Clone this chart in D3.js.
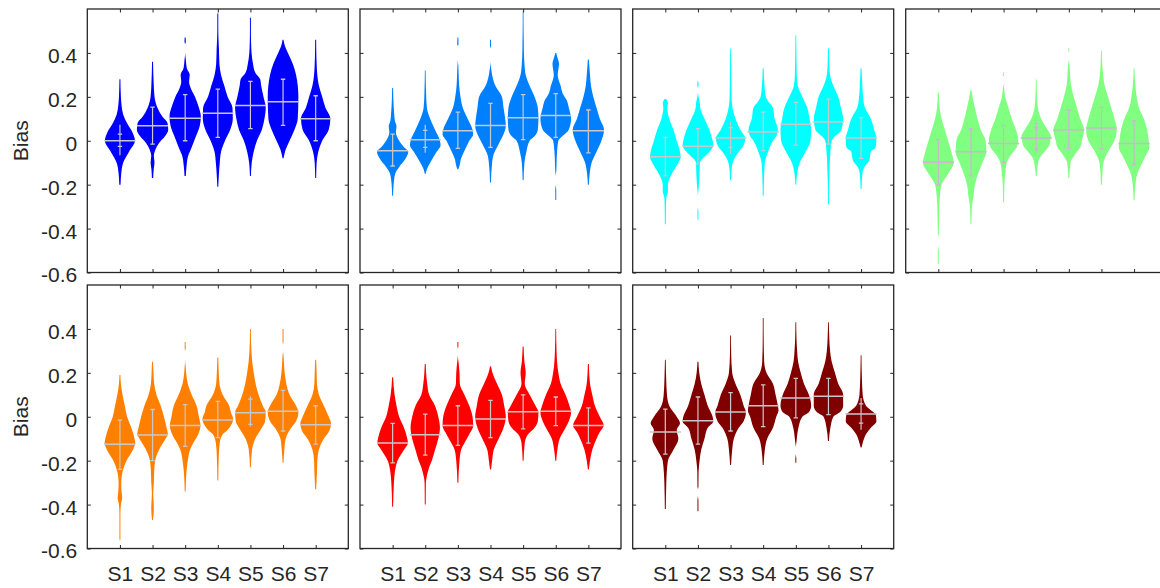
<!DOCTYPE html>
<html>
<head>
<meta charset="utf-8">
<script src="https://cdn.jsdelivr.net/npm/d3@7"></script>
<style>
body { margin: 0; background: #fff; }
text { font-family: "Liberation Sans", Arial, sans-serif; fill: #262626; }
</style>
</head>
<body>
<script>
// categories and tick labels
var groups = ['S1', 'S2', 'S3', 'S4', 'S5', 'S6', 'S7']
var yTicks = [-0.6, -0.4, -0.2, 0, 0.2, 0.4]
var panelColors = ['#0000ff', '#0080ff', '#00ffff', '#80ff80', '#ff8000', '#ff0000', '#800000']

// centre line (median) of each violin, per panel
var medians = [
    [0, 0.068, 0.103, 0.125, 0.16, 0.178, 0.1],
    [-0.045, 0.005, 0.045, 0.07, 0.105, 0.115, 0.045],
    [-0.073, -0.025, 0.012, 0.04, 0.075, 0.085, 0.012],
    [-0.098, -0.05, -0.012, 0.012, 0.05, 0.058, -0.012],
    [-0.125, -0.083, -0.04, -0.015, 0.018, 0.025, -0.037],
    [-0.12, -0.082, -0.04, -0.01, 0.023, 0.025, -0.04],
    [-0.07, -0.018, 0.022, 0.05, 0.085, 0.093, 0.013]
]
// whisker line ends
var errLow = [
    [-0.066, -0.015, 0, 0.015, 0.055, 0.07, 0],
    [-0.115, -0.055, -0.035, -0.03, 0.005, 0.015, -0.055],
    [-0.16, -0.105, -0.06, -0.045, -0.02, -0.015, -0.08],
    [-0.2, -0.16, -0.1, -0.056, -0.035, -0.036, -0.107],
    [-0.24, -0.2, -0.135, -0.095, -0.044, -0.065, -0.125],
    [-0.21, -0.175, -0.13, -0.095, -0.055, -0.04, -0.12],
    [-0.17, -0.125, -0.065, -0.045, -0.005, 0.01, -0.059]
]
var errHigh = [
    [0.073, 0.153, 0.21, 0.235, 0.27, 0.28, 0.205],
    [0.03, 0.073, 0.13, 0.17, 0.21, 0.215, 0.14],
    [0.015, 0.055, 0.085, 0.13, 0.175, 0.19, 0.105],
    [0.005, 0.055, 0.07, 0.088, 0.14, 0.152, 0.09],
    [-0.015, 0.033, 0.055, 0.07, 0.092, 0.12, 0.05],
    [-0.03, 0.012, 0.05, 0.075, 0.1, 0.09, 0.04],
    [0.035, 0.09, 0.11, 0.145, 0.175, 0.175, 0.085]
]
// error bar caps
var capLow = [
    [-0.026, -0.015, 0, 0.015, 0.055, 0.07, 0],
    [-0.115, -0.03, -0.035, -0.03, 0.005, 0.015, -0.055],
    [-0.16, -0.105, -0.03, -0.045, -0.02, -0.015, -0.08],
    [-0.2, -0.16, -0.1, -0.038, -0.035, -0.036, -0.107],
    [-0.24, -0.2, -0.135, -0.095, -0.035, -0.065, -0.125],
    [-0.21, -0.175, -0.13, -0.095, -0.055, -0.04, -0.12],
    [-0.17, -0.125, -0.065, -0.045, -0.005, 0.01, -0.029]
]
var capHigh = [
    [0.03, 0.153, 0.21, 0.235, 0.27, 0.28, 0.205],
    [0.03, 0.047, 0.13, 0.17, 0.21, 0.215, 0.14],
    [0.015, 0.055, 0.06, 0.13, 0.175, 0.19, 0.105],
    [0.005, 0.055, 0.07, 0.058, 0.14, 0.152, 0.09],
    [-0.015, 0.033, 0.055, 0.07, 0.08, 0.12, 0.05],
    [-0.03, 0.012, 0.05, 0.075, 0.1, 0.09, 0.04],
    [0.035, 0.09, 0.11, 0.145, 0.175, 0.175, 0.059]
]

// violin outlines: [bias, half width in category units]
var shapes1 = [
    [[-0.2,0.02],[-0.15,0.04],[-0.1,0.1],[-0.05,0.28],[0,0.46],[0.04,0.38],[0.08,0.22],[0.12,0.1],[0.16,0.05],[0.22,0.025],[0.28,0.015]],
    [[-0.17,0.02],[-0.13,0.035],[-0.1,0.06],[-0.07,0.04],[-0.04,0.09],[-0.01,0.2],[0.02,0.38],[0.05,0.48],[0.08,0.46],[0.11,0.3],[0.15,0.15],[0.2,0.06],[0.26,0.035],[0.36,0.015]],
    [[-0.16,0.02],[-0.12,0.04],[-0.07,0.09],[-0.03,0.2],[0.02,0.33],[0.07,0.45],[0.11,0.48],[0.16,0.4],[0.2,0.3],[0.24,0.17],[0.27,0.12],[0.3,0.14],[0.33,0.05],[0.37,0.02],[0.4,0],[0.44,0],[0.45,0.02],[0.47,0.015]],
    [[-0.21,0.015],[-0.15,0.035],[-0.1,0.06],[-0.05,0.1],[0,0.22],[0.05,0.38],[0.1,0.46],[0.15,0.45],[0.2,0.3],[0.25,0.2],[0.3,0.1],[0.35,0.05],[0.42,0.035],[0.47,0.02],[0.52,0.015],[0.58,0.015]],
    [[-0.16,0.015],[-0.1,0.04],[-0.05,0.1],[0,0.2],[0.05,0.35],[0.1,0.43],[0.15,0.47],[0.2,0.4],[0.25,0.33],[0.28,0.3],[0.31,0.15],[0.35,0.08],[0.4,0.035],[0.45,0.02],[0.5,0.015],[0.56,0.015]],
    [[-0.08,0.015],[-0.04,0.08],[0,0.2],[0.05,0.35],[0.1,0.45],[0.2,0.47],[0.3,0.4],[0.35,0.3],[0.4,0.15],[0.43,0.06],[0.46,0.015]],
    [[-0.17,0.015],[-0.1,0.03],[-0.05,0.08],[0,0.2],[0.05,0.4],[0.1,0.45],[0.15,0.3],[0.2,0.2],[0.25,0.1],[0.3,0.05],[0.35,0.03],[0.4,0.02],[0.46,0.015]]
]
var shapes2 = [
    [[-0.25,0.015],[-0.2,0.03],[-0.15,0.08],[-0.12,0.2],[-0.08,0.4],[-0.05,0.48],[-0.03,0.35],[0,0.2],[0.04,0.1],[0.065,0.12],[0.09,0.07],[0.12,0.05],[0.18,0.025],[0.24,0.015]],
    [[-0.15,0.015],[-0.13,0.05],[-0.1,0.15],[-0.05,0.35],[-0.02,0.47],[0,0.45],[0.05,0.3],[0.1,0.15],[0.15,0.05],[0.22,0.025],[0.32,0.012]],
    [[-0.13,0.015],[-0.12,0.04],[-0.08,0.1],[-0.04,0.22],[0,0.35],[0.03,0.47],[0.05,0.45],[0.1,0.3],[0.15,0.15],[0.2,0.08],[0.25,0.04],[0.3,0.025],[0.34,0.015],[0.37,0],[0.43,0],[0.44,0.02],[0.47,0.015]],
    [[-0.19,0.015],[-0.1,0.05],[-0.06,0.1],[-0.03,0.2],[0,0.3],[0.03,0.4],[0.07,0.47],[0.1,0.45],[0.15,0.4],[0.2,0.35],[0.25,0.15],[0.3,0.05],[0.33,0.02],[0.36,0],[0.42,0],[0.43,0.015],[0.46,0.015]],
    [[-0.18,0.015],[-0.1,0.04],[-0.05,0.1],[0,0.2],[0.02,0.35],[0.05,0.45],[0.1,0.47],[0.15,0.45],[0.2,0.35],[0.25,0.2],[0.3,0.08],[0.35,0.04],[0.4,0.025],[0.45,0.02],[0.5,0.015],[0.59,0.012]],
    [[-0.27,0.015],[-0.22,0.015],[-0.2,0],[-0.16,0],[-0.14,0.015],[-0.1,0.025],[-0.05,0.04],[0,0.08],[0.02,0.2],[0.05,0.4],[0.1,0.47],[0.15,0.4],[0.18,0.35],[0.22,0.2],[0.25,0.15],[0.3,0.06],[0.35,0.1],[0.38,0.05],[0.4,0.015]],
    [[-0.2,0.015],[-0.15,0.04],[-0.1,0.1],[-0.05,0.25],[0,0.4],[0.05,0.48],[0.1,0.35],[0.15,0.25],[0.2,0.15],[0.25,0.08],[0.3,0.05],[0.35,0.025],[0.37,0.015]]
]
var shapes3 = [
    [[-0.38,0.015],[-0.3,0.02],[-0.26,0.03],[-0.23,0.08],[-0.2,0.08],[-0.15,0.2],[-0.1,0.4],[-0.075,0.47],[-0.05,0.45],[0,0.35],[0.05,0.25],[0.1,0.12],[0.15,0.06],[0.17,0.08],[0.19,0.02]],
    [[-0.36,0.015],[-0.32,0.015],[-0.3,0],[-0.25,0],[-0.22,0.02],[-0.15,0.05],[-0.1,0.06],[-0.08,0.15],[-0.05,0.35],[-0.02,0.47],[0,0.45],[0.05,0.35],[0.1,0.2],[0.15,0.07],[0.17,0.06],[0.2,0.02],[0.22,0],[0.24,0],[0.25,0.02],[0.27,0.015]],
    [[-0.18,0.015],[-0.12,0.04],[-0.08,0.12],[-0.05,0.25],[-0.02,0.4],[0.01,0.45],[0.05,0.3],[0.1,0.15],[0.15,0.06],[0.2,0.03],[0.3,0.02],[0.42,0.012]],
    [[-0.25,0.015],[-0.15,0.03],[-0.1,0.05],[-0.05,0.15],[0,0.3],[0.02,0.4],[0.05,0.45],[0.1,0.35],[0.15,0.3],[0.18,0.15],[0.2,0.08],[0.25,0.04],[0.33,0.015]],
    [[-0.2,0.015],[-0.15,0.04],[-0.1,0.12],[-0.05,0.3],[0,0.45],[0.05,0.47],[0.1,0.42],[0.15,0.35],[0.2,0.2],[0.25,0.06],[0.3,0.03],[0.38,0.02],[0.48,0.012]],
    [[-0.29,0.015],[-0.22,0.015],[-0.15,0.03],[-0.1,0.04],[-0.05,0.06],[0,0.1],[0.02,0.2],[0.05,0.4],[0.1,0.45],[0.15,0.38],[0.2,0.3],[0.25,0.15],[0.3,0.05],[0.35,0.025],[0.42,0.015]],
    [[-0.22,0.015],[-0.15,0.04],[-0.12,0.1],[-0.09,0.25],[-0.05,0.3],[-0.03,0.45],[0.01,0.47],[0.05,0.4],[0.1,0.3],[0.15,0.12],[0.2,0.06],[0.25,0.04],[0.33,0.015]]
]
var shapes4 = [
    [[-0.56,0.015],[-0.5,0.015],[-0.48,0],[-0.44,0],[-0.42,0.015],[-0.3,0.03],[-0.25,0.05],[-0.2,0.1],[-0.15,0.3],[-0.1,0.47],[-0.05,0.4],[0,0.3],[0.05,0.2],[0.1,0.1],[0.15,0.04],[0.22,0.015]],
    [[-0.38,0.015],[-0.3,0.03],[-0.25,0.08],[-0.2,0.12],[-0.15,0.22],[-0.1,0.35],[-0.05,0.47],[0,0.45],[0.05,0.3],[0.1,0.2],[0.15,0.12],[0.2,0.05],[0.23,0.015]],
    [[-0.28,0.015],[-0.2,0.025],[-0.15,0.05],[-0.1,0.1],[-0.07,0.2],[-0.03,0.4],[0,0.45],[0.05,0.38],[0.1,0.25],[0.15,0.15],[0.2,0.05],[0.24,0.02],[0.26,0],[0.29,0],[0.3,0.015],[0.31,0.015]],
    [[-0.16,0.015],[-0.12,0.04],[-0.08,0.1],[-0.05,0.25],[-0.02,0.4],[0.02,0.45],[0.05,0.35],[0.1,0.15],[0.15,0.05],[0.2,0.025],[0.28,0.012]],
    [[-0.17,0.015],[-0.1,0.05],[-0.06,0.2],[-0.03,0.35],[0,0.4],[0.05,0.47],[0.1,0.35],[0.15,0.25],[0.2,0.15],[0.25,0.07],[0.3,0.04],[0.35,0.02],[0.37,0],[0.4,0],[0.41,0.015],[0.42,0.015]],
    [[-0.2,0.015],[-0.15,0.03],[-0.1,0.06],[-0.05,0.2],[0,0.4],[0.05,0.47],[0.1,0.4],[0.15,0.3],[0.2,0.2],[0.25,0.1],[0.3,0.05],[0.35,0.025],[0.41,0.012]],
    [[-0.27,0.015],[-0.2,0.04],[-0.15,0.1],[-0.1,0.25],[-0.07,0.35],[-0.03,0.47],[0,0.45],[0.05,0.4],[0.1,0.3],[0.15,0.15],[0.2,0.08],[0.25,0.04],[0.33,0.012]]
]
var shapes5 = [
    [[-0.56,0.015],[-0.45,0.015],[-0.4,0.03],[-0.37,0.07],[-0.34,0.05],[-0.3,0.04],[-0.25,0.08],[-0.2,0.2],[-0.15,0.4],[-0.12,0.47],[-0.1,0.45],[-0.05,0.35],[0,0.22],[0.05,0.15],[0.1,0.08],[0.15,0.03],[0.19,0.015]],
    [[-0.47,0.015],[-0.42,0.04],[-0.38,0.03],[-0.35,0.02],[-0.3,0.04],[-0.25,0.05],[-0.2,0.08],[-0.15,0.2],[-0.1,0.4],[-0.08,0.47],[-0.05,0.43],[0,0.35],[0.05,0.25],[0.1,0.12],[0.15,0.05],[0.2,0.03],[0.25,0.015]],
    [[-0.34,0.015],[-0.25,0.04],[-0.2,0.08],[-0.15,0.15],[-0.12,0.25],[-0.08,0.4],[-0.04,0.47],[0,0.42],[0.05,0.35],[0.1,0.2],[0.15,0.08],[0.2,0.03],[0.23,0.015],[0.26,0],[0.3,0],[0.31,0.015],[0.34,0.015]],
    [[-0.29,0.015],[-0.18,0.03],[-0.12,0.06],[-0.08,0.15],[-0.06,0.3],[-0.04,0.4],[-0.01,0.47],[0.02,0.4],[0.05,0.35],[0.1,0.15],[0.15,0.05],[0.2,0.03],[0.27,0.015]],
    [[-0.23,0.015],[-0.15,0.05],[-0.1,0.15],[-0.05,0.35],[-0.02,0.45],[0.02,0.47],[0.05,0.38],[0.1,0.25],[0.2,0.1],[0.3,0.03],[0.4,0.012]],
    [[-0.21,0.015],[-0.15,0.04],[-0.1,0.08],[-0.05,0.25],[-0.02,0.4],[0.02,0.47],[0.05,0.4],[0.1,0.2],[0.15,0.1],[0.2,0.05],[0.24,0.03],[0.28,0.015],[0.3,0],[0.33,0],[0.34,0.015],[0.4,0.015]],
    [[-0.33,0.015],[-0.25,0.04],[-0.2,0.05],[-0.15,0.1],[-0.1,0.25],[-0.07,0.4],[-0.03,0.47],[0,0.4],[0.05,0.25],[0.1,0.1],[0.15,0.04],[0.2,0.03],[0.26,0.015]]
]
var shapes6 = [
    [[-0.41,0.015],[-0.3,0.04],[-0.25,0.07],[-0.2,0.15],[-0.15,0.35],[-0.12,0.47],[-0.1,0.45],[-0.05,0.35],[0,0.2],[0.05,0.12],[0.1,0.06],[0.18,0.015]],
    [[-0.4,0.015],[-0.3,0.02],[-0.27,0.05],[-0.23,0.12],[-0.2,0.2],[-0.15,0.3],[-0.1,0.4],[-0.05,0.45],[0,0.4],[0.05,0.3],[0.1,0.12],[0.15,0.06],[0.24,0.015]],
    [[-0.3,0.015],[-0.2,0.05],[-0.15,0.1],[-0.12,0.2],[-0.08,0.35],[-0.04,0.47],[0,0.45],[0.05,0.35],[0.1,0.2],[0.15,0.06],[0.2,0.05],[0.25,0.02],[0.28,0],[0.31,0],[0.32,0.015],[0.34,0.015]],
    [[-0.24,0.015],[-0.2,0.05],[-0.15,0.1],[-0.1,0.25],[-0.05,0.4],[0,0.47],[0.05,0.42],[0.1,0.35],[0.15,0.2],[0.2,0.06],[0.23,0.015]],
    [[-0.2,0.015],[-0.12,0.05],[-0.08,0.15],[-0.05,0.35],[-0.02,0.45],[0.02,0.47],[0.05,0.38],[0.1,0.2],[0.15,0.05],[0.2,0.08],[0.25,0.04],[0.32,0.015]],
    [[-0.2,0.015],[-0.15,0.05],[-0.1,0.12],[-0.05,0.3],[-0.02,0.4],[0.02,0.47],[0.05,0.42],[0.1,0.3],[0.15,0.15],[0.2,0.08],[0.3,0.025],[0.4,0.012]],
    [[-0.24,0.015],[-0.2,0.05],[-0.15,0.12],[-0.1,0.25],[-0.07,0.35],[-0.04,0.47],[0,0.35],[0.05,0.2],[0.1,0.12],[0.15,0.05],[0.24,0.015]]
]
var shapes7 = [
    [[-0.42,0.015],[-0.3,0.03],[-0.2,0.08],[-0.15,0.25],[-0.1,0.4],[-0.06,0.35],[-0.03,0.45],[0,0.35],[0.05,0.12],[0.1,0.05],[0.18,0.025],[0.26,0.012]],
    [[-0.43,0.015],[-0.38,0.015],[-0.36,0],[-0.33,0],[-0.32,0.015],[-0.25,0.02],[-0.2,0.05],[-0.15,0.1],[-0.1,0.2],[-0.05,0.3],[-0.02,0.47],[0,0.45],[0.05,0.3],[0.1,0.2],[0.15,0.1],[0.2,0.04],[0.25,0.015]],
    [[-0.22,0.015],[-0.15,0.05],[-0.1,0.1],[-0.05,0.25],[-0.02,0.4],[0.02,0.47],[0.05,0.4],[0.1,0.3],[0.15,0.15],[0.2,0.05],[0.28,0.02],[0.37,0.012]],
    [[-0.22,0.015],[-0.15,0.05],[-0.1,0.12],[-0.05,0.3],[0,0.4],[0.03,0.47],[0.05,0.45],[0.1,0.38],[0.15,0.3],[0.2,0.1],[0.25,0.03],[0.35,0.015],[0.45,0.012]],
    [[-0.21,0.015],[-0.19,0.015],[-0.17,0],[-0.14,0],[-0.12,0.015],[-0.1,0.03],[-0.05,0.08],[0,0.2],[0.02,0.4],[0.05,0.47],[0.1,0.4],[0.15,0.25],[0.2,0.15],[0.25,0.07],[0.3,0.04],[0.36,0.02],[0.43,0.012]],
    [[-0.11,0.015],[-0.05,0.06],[0,0.15],[0.02,0.35],[0.05,0.45],[0.1,0.45],[0.15,0.3],[0.2,0.2],[0.25,0.1],[0.3,0.05],[0.36,0.025],[0.43,0.012]],
    [[-0.14,0.015],[-0.12,0.05],[-0.08,0.15],[-0.05,0.3],[-0.02,0.47],[0.01,0.45],[0.03,0.3],[0.05,0.15],[0.1,0.05],[0.18,0.025],[0.28,0.012]]
]
var shapes = [shapes1, shapes2, shapes3, shapes4, shapes5, shapes6, shapes7]

// layout
var width = 1160, height = 588
var colLeft = [87.3, 360, 632.7, 905.7]
var rowTop = [9, 285]
var pw = 261, ph = 263.5

var svg = d3.select('body').append('svg')
    .attr('width', width)
    .attr('height', height)

var x = d3.scaleLinear().domain([0, 8]).range([0, pw])
var y = d3.scaleLinear().domain([-0.6, 0.6]).range([ph, 0])
var unit = x(1) - x(0)
var fmt = d => d === 0 ? '0' : String(d)

panelColors.forEach((color, p) => {
    var col = p % 4, row = Math.floor(p / 4)
    var g = svg.append('g')
        .attr('transform', 'translate(' + colLeft[col] + ',' + rowTop[row] + ')')

    g.append('clipPath').attr('id', 'clip' + p)
        .append('rect').attr('width', pw).attr('height', ph)

    var plot = g.append('g').attr('clip-path', 'url(#clip' + p + ')')
    var lineColor = p === 3 ? '#cdb6d2' : '#c8c8c8'

    shapes[p].forEach((shape, k) => {
        var cx = x(k + 1)
        var area = d3.area()
            .curve(d3.curveMonotoneY)
            .y(d => y(d[0]))
            .x0(d => cx - d[1] * unit)
            .x1(d => cx + d[1] * unit)
        plot.append('path')
            .attr('d', area(shape))
            .attr('fill', color)

        // median line
        plot.append('line')
            .attr('x1', cx - 0.48 * unit).attr('x2', cx + 0.48 * unit)
            .attr('y1', y(medians[p][k])).attr('y2', y(medians[p][k]))
            .attr('stroke', lineColor).attr('stroke-width', 1.5)
        // whisker
        plot.append('line')
            .attr('x1', cx).attr('x2', cx)
            .attr('y1', y(errLow[p][k])).attr('y2', y(errHigh[p][k]))
            .attr('stroke', lineColor).attr('stroke-width', 1.2)
        // caps
        ;[capLow[p][k], capHigh[p][k]].forEach(v => {
            plot.append('line')
                .attr('x1', cx - 2.2).attr('x2', cx + 2.2)
                .attr('y1', y(v)).attr('y2', y(v))
                .attr('stroke', lineColor).attr('stroke-width', 1.3)
        })
    })

    // axes, ticks pointing inward on all four sides
    var xt = d3.range(1, 8)
    var left = g.append('g')
        .call(d3.axisLeft(y).tickValues(yTicks).tickSize(-3.5).tickSizeOuter(0)
            .tickPadding(10).tickFormat(col === 0 ? fmt : ''))
    g.append('g').attr('transform', 'translate(' + pw + ',0)')
        .call(d3.axisRight(y).tickValues(yTicks).tickSize(-3.5).tickSizeOuter(0).tickFormat(''))
    g.append('g')
        .call(d3.axisTop(x).tickValues(xt).tickSize(-3.5).tickSizeOuter(0).tickFormat(''))
    g.append('g').attr('transform', 'translate(0,' + ph + ')')
        .call(d3.axisBottom(x).tickValues(xt).tickSize(-3.5).tickSizeOuter(0)
            .tickPadding(18).tickFormat(row === 1 ? d => groups[d - 1] : ''))

    g.selectAll('.domain').remove()
    g.selectAll('.tick line').attr('stroke', '#262626')
    g.selectAll('.tick text')
        .attr('fill', '#262626')
        .style('font-size', '21px')
        .style('font-family', '"Liberation Sans", Arial, sans-serif')
    left.selectAll('.tick text').attr('dy', '0.45em')

    g.append('rect')
        .attr('width', pw).attr('height', ph)
        .attr('fill', 'none')
        .attr('stroke', '#262626')
        .attr('stroke-width', 1.3)

    if (col === 0) {
        g.append('text')
            .attr('transform', 'translate(' + (28 - colLeft[0]) + ',' + (ph / 2) + ') rotate(-90)')
            .attr('text-anchor', 'middle')
            .style('font-size', '21px')
            .text('Bias')
    }
})
</script>
</body>
</html>
